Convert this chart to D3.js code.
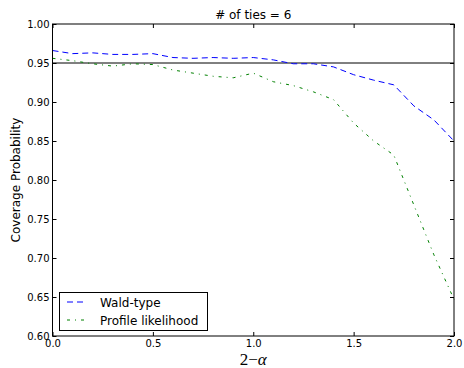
<!DOCTYPE html>
<html><head><meta charset="utf-8">
<script src="https://cdn.jsdelivr.net/npm/d3@7"></script>
<style>
html,body{margin:0;padding:0;background:#fff;}
svg{display:block;}
</style></head>
<body>
<script>
const xValues = [0.0,0.1,0.2,0.3,0.4,0.5,0.6,0.7,0.8,0.9,1.0,1.1,1.2,1.3,1.4,1.5,1.6,1.7,1.8,1.9,2.0];
const waldValues = [0.966,0.962,0.963,0.961,0.961,0.962,0.957,0.956,0.957,0.956,0.957,0.954,0.949,0.949,0.945,0.935,0.928,0.922,0.895,0.877,0.850];
const profileValues = [0.956,0.953,0.949,0.946,0.949,0.948,0.941,0.937,0.933,0.931,0.937,0.926,0.921,0.913,0.903,0.873,0.850,0.832,0.768,0.704,0.647];
const xTicks = [0.0,0.5,1.0,1.5,2.0];
const yTicks = [0.60,0.65,0.70,0.75,0.80,0.85,0.90,0.95,1.00];
const refLine = 0.95;
const seriesNames = ["Wald-type","Profile likelihood"];

(function(){
const W=464,H=368;
const pL=52.5,pR=454,pT=24,pB=336;
const sans="DejaVu Sans, sans-serif";
const svg=d3.select("body").append("svg").attr("width",W).attr("height",H);
const x=d3.scaleLinear().domain([0,2]).range([pL,pR]);
const y=d3.scaleLinear().domain([0.60,1.00]).range([pB,pT]);

svg.append("line").attr("x1",pL).attr("x2",pR).attr("y1",y(refLine)).attr("y2",y(refLine))
  .attr("stroke","#000").attr("stroke-width",1);

const line=d3.line().x(d=>x(d[0])).y(d=>y(d[1]));
const series=[
  {vals:waldValues,color:"#0000ff",dash:"6,4"},
  {vals:profileValues,color:"#008000",dash:"3,5,1,5"}
];
series.forEach(s=>{
  svg.append("path").datum(xValues.map((v,i)=>[v,s.vals[i]]))
   .attr("d",line).attr("fill","none").attr("stroke",s.color)
   .attr("stroke-width",1).attr("stroke-dasharray",s.dash);
});

const ax=(g)=>g.selectAll(".domain").remove();
svg.append("g").attr("transform",`translate(0,${pB})`)
  .call(d3.axisBottom(x).tickValues(xTicks).tickFormat(d3.format(".1f")).tickSizeInner(-4).tickSizeOuter(0).tickPadding(4))
  .call(ax).call(g=>g.selectAll("text").style("font-size","10px").style("font-family",sans).attr("fill","#000"));
svg.append("g").attr("transform",`translate(0,${pT})`)
  .call(d3.axisTop(x).tickValues(xTicks).tickFormat("").tickSizeInner(-4).tickSizeOuter(0)).call(ax);
svg.append("g").attr("transform",`translate(${pL},0)`)
  .call(d3.axisLeft(y).tickValues(yTicks).tickFormat(d3.format(".2f")).tickSizeInner(-4).tickSizeOuter(0).tickPadding(3))
  .call(ax).call(g=>g.selectAll("text").style("font-size","10px").style("font-family",sans).attr("fill","#000"));
svg.append("g").attr("transform",`translate(${pR},0)`)
  .call(d3.axisRight(y).tickValues(yTicks).tickFormat("").tickSizeInner(-4).tickSizeOuter(0)).call(ax);
svg.selectAll(".tick line").attr("stroke","#000");

svg.append("rect").attr("x",pL).attr("y",pT).attr("width",pR-pL).attr("height",pB-pT)
  .attr("fill","none").attr("stroke","#000").attr("stroke-width",1);

svg.append("text").attr("x",(pL+pR)/2).attr("y",19).attr("text-anchor","middle")
  .style("font-family",sans).style("font-size","12px").text("# of ties = 6");
svg.append("text").attr("transform",`translate(20,${(pT+pB)/2}) rotate(-90)`)
  .attr("text-anchor","middle").style("font-family",sans).style("font-size","12px").text("Coverage Probability");
const xl=svg.append("text").attr("x",(pL+pR)/2).attr("y",364.5).attr("text-anchor","middle")
  .style("font-size","17px").style("font-family","Liberation Serif, DejaVu Serif, serif");
xl.append("tspan").text("2−");
xl.append("tspan").style("font-style","italic").text("α");

const lg=svg.append("g");
lg.append("rect").attr("x",59.5).attr("y",292.5).attr("width",148).attr("height",38)
  .attr("fill","#fff").attr("stroke","#000").attr("stroke-width",1);
series.forEach((s,i)=>{
  const yy=302+i*18;
  lg.append("line").attr("x1",67).attr("x2",86).attr("y1",yy).attr("y2",yy)
    .attr("stroke",s.color).attr("stroke-dasharray",s.dash).attr("stroke-width",1);
  lg.append("text").attr("x",100).attr("y",yy+4.5).style("font-family",sans).style("font-size","12px").text(seriesNames[i]);
});
})();
</script>
</body></html>
